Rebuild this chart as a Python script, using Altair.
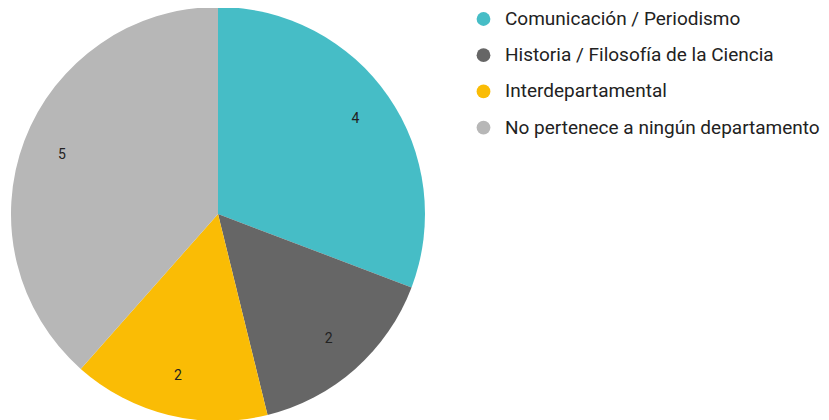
import altair as alt
import pandas as pd

categories = ["Comunicación / Periodismo", "Historia / Filosofía de la Ciencia",
              "Interdepartamental", "No pertenece a ningún departamento"]
values = [4, 2, 2, 5]
colors = ["#46BDC6", "#666666", "#FABC05", "#B7B7B7"]

df = pd.DataFrame({"cat": categories, "val": values, "ord": list(range(len(values)))})

base = alt.Chart(df).encode(
    theta=alt.Theta("val:Q", stack=True),
    order=alt.Order("ord:Q"),
    x=alt.value(210),
    y=alt.value(206),
)

color = alt.Color(
    "cat:N",
    sort=categories,
    scale=alt.Scale(domain=categories, range=colors),
    legend=alt.Legend(
        title=None,
        orient="none",
        legendX=466,
        legendY=1.5,
        symbolType="circle",
        symbolSize=190,
        symbolStrokeWidth=0,
        labelFont="Roboto",
        labelFontSize=19,
        labelColor="#222222",
        labelLimit=500,
        rowPadding=16.2,
        labelOffset=12,
    ),
)

pie = base.mark_arc(radius=207, stroke=None).encode(color=color)
labels = base.mark_text(radius=167, font="Roboto", fontSize=14, color="#222222").encode(
    text=alt.Text("val:Q")
)

chart = (pie + labels).properties(
    width=813, height=412, padding=0,
    autosize=alt.AutoSizeParams(type="none"),
).configure_view(stroke=None)

chart.save("out.html", embed_options={"renderer": "svg", "actions": False})
